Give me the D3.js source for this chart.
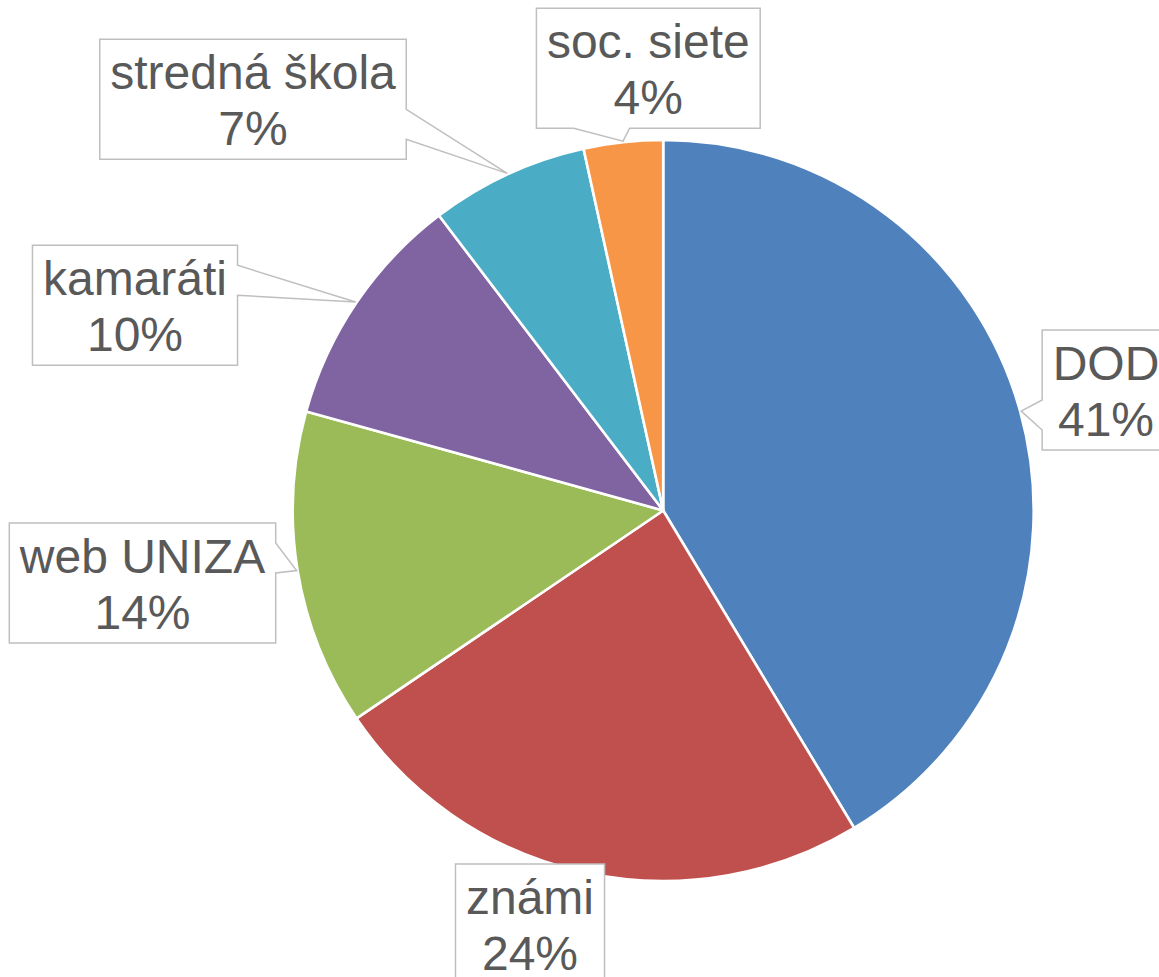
<!DOCTYPE html>
<html>
<head>
<meta charset="utf-8">
<script src="https://cdn.jsdelivr.net/npm/d3@7"></script>
<style>
  body { margin: 0; background: #fff; }
  text { font-family: "Liberation Sans", Arial, sans-serif; }
</style>
</head>
<body>
<svg id="chart" width="1159" height="977"></svg>
<script>
const categories = ["DOD", "známi", "web UNIZA", "kamaráti", "stredná škola", "soc. siete"]
const counts = [12, 7, 4, 3, 2, 1]
const percentLabels = ["41%", "24%", "14%", "10%", "7%", "4%"]
const colors = ["#4F81BD", "#C0504D", "#9BBB59", "#8064A2", "#4BACC6", "#F79646"]

// callout box centers, as Excel placed them
const labelPos = [[1106, 390], [530, 924], [142.5, 583], [135, 305.3], [253, 99.3], [648.3, 68.2]]

const cx = 663.2, cy = 510.5, radius = 370.5
const boxH = 120, padX = 10.5, lineGap = 55.5

const svg = d3.select("#chart")

const pie = d3.pie().sort(null).value(d => d)
const arcs = pie(counts)
const arc = d3.arc().innerRadius(0).outerRadius(radius)
const tipArc = d3.arc().innerRadius(radius + 1).outerRadius(radius + 1)

const g = svg.append("g").attr("transform", "translate(" + cx + "," + cy + ")")

g.selectAll("path.slice")
  .data(arcs)
  .enter().append("path")
  .attr("class", "slice")
  .attr("d", arc)
  .attr("fill", (d, i) => colors[i])
  .attr("stroke", "#fff")
  .attr("stroke-width", 2.6)
  .attr("stroke-linejoin", "round")

// rectangle callout with a wedge pointing at (tx, ty), like Excel's wedgeRectCallout
function calloutPath(l, t, w, h, tx, ty) {
  const r = l + w, b = t + h
  const dx = tx - (l + w / 2), dy = ty - (t + h / 2)
  let p = [[l, t]]
  const inside = tx >= l && tx <= r && ty >= t && ty <= b
  if (inside) {
    p.push([r, t], [r, b], [l, b])
    return "M" + p.join("L") + "Z"
  }
  const x1 = l + w * (dx > 0 ? 7 : 2) / 12, x2 = l + w * (dx > 0 ? 10 : 5) / 12
  const y1 = t + h * (dy > 0 ? 7 : 2) / 12, y2 = t + h * (dy > 0 ? 10 : 5) / 12
  const vertical = Math.abs(dy) > Math.abs(dx * h / w)
  if (vertical && dy < 0) p.push([x1, t], [tx, ty], [x2, t])
  p.push([r, t])
  if (!vertical && dx > 0) p.push([r, y1], [tx, ty], [r, y2])
  p.push([r, b])
  if (vertical && dy > 0) p.push([x2, b], [tx, ty], [x1, b])
  p.push([l, b])
  if (!vertical && dx < 0) p.push([l, y2], [tx, ty], [l, y1])
  return "M" + p.join("L") + "Z"
}

const labels = svg.selectAll("g.label")
  .data(arcs)
  .enter().append("g")
  .attr("class", "label")

labels.each(function(d, i) {
  const lg = d3.select(this)
  const [lx, ly] = labelPos[i]
  const box = lg.append("path")

  const t1 = lg.append("text")
    .attr("x", lx).attr("y", ly - 10)
    .attr("text-anchor", "middle")
    .attr("font-size", 48)
    .attr("fill", "#595959")
    .text(categories[i])
  const t2 = lg.append("text")
    .attr("x", lx).attr("y", ly - 10 + lineGap)
    .attr("text-anchor", "middle")
    .attr("font-size", 48)
    .attr("fill", "#595959")
    .text(percentLabels[i])

  const w = Math.max(t1.node().getComputedTextLength(), t2.node().getComputedTextLength()) + 2 * padX
  const tip = tipArc.centroid(d)

  box.attr("d", calloutPath(lx - w / 2, ly - boxH / 2, w, boxH, tip[0] + cx, tip[1] + cy))
    .attr("fill", "#fff")
    .attr("stroke", "#BFBFBF")
    .attr("stroke-width", 1.5)
})
</script>
</body>
</html>
